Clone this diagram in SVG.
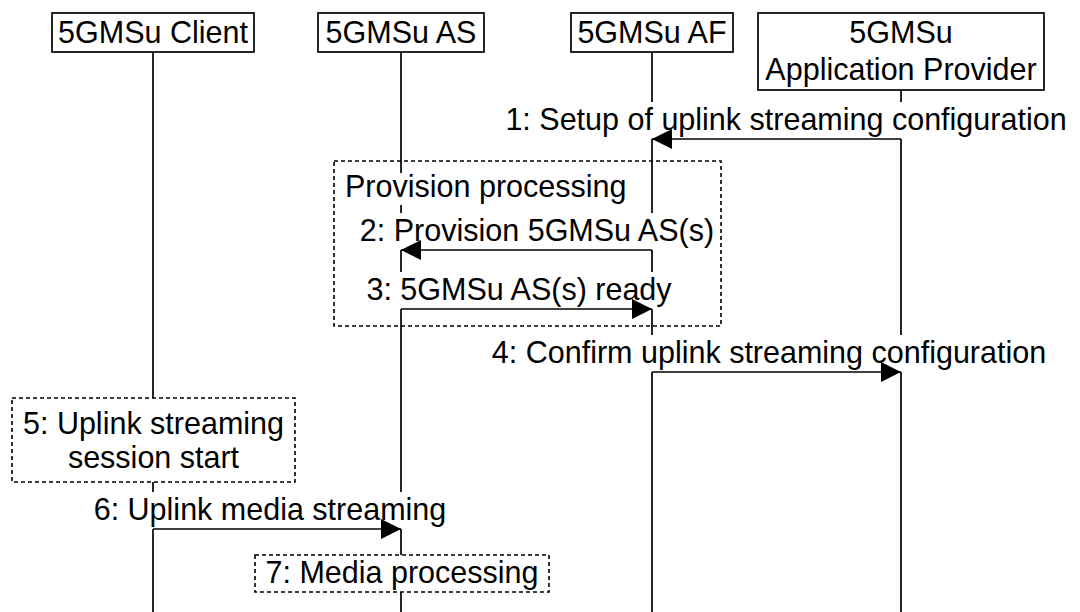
<svg xmlns="http://www.w3.org/2000/svg" width="1080" height="612" viewBox="0 0 1080 612">
  <style>
    text { font-family: "Liberation Sans", Arial, sans-serif; font-size: 30.5px; fill: #000; }
    .c { text-anchor: middle; }
    .box { fill: #fff; stroke: #000; stroke-width: 1.7; }
    .dash { fill: #fff; stroke: #000; stroke-width: 1.6; stroke-dasharray: 4 3; }
    .life { stroke: #000; stroke-width: 1.7; fill: none; }
    .msg { stroke: #000; stroke-width: 1.7; fill: none; marker-end: url(#ah); }
    .bg { fill: #fff; stroke: none; }
  </style>
  <defs>
    <marker id="ah" markerUnits="userSpaceOnUse" markerWidth="20" markerHeight="20" viewBox="0 0 18 18" refX="18" refY="9" orient="auto">
      <path d="M0,0 L18,9 L0,18 z" fill="#000"/>
    </marker>
  </defs>
  <rect width="1080" height="612" fill="#fff"/>

  <g id="lifelines">
    <line class="life" x1="153" y1="52" x2="153" y2="612"/>
    <line class="life" x1="401" y1="52" x2="401" y2="612"/>
    <line class="life" x1="652" y1="52" x2="652" y2="612"/>
    <line class="life" x1="901" y1="90" x2="901" y2="612"/>
  </g>

  <g id="client">
    <rect class="box" x="52" y="13" width="202" height="39"/>
    <text class="c" x="153" y="43">5GMSu Client</text>
  </g>
  <g id="as">
    <rect class="box" x="318" y="13" width="166" height="39"/>
    <text class="c" x="401" y="43">5GMSu AS</text>
  </g>
  <g id="af">
    <rect class="box" x="571" y="13" width="162" height="39"/>
    <text class="c" x="652" y="43">5GMSu AF</text>
  </g>
  <g id="ap">
    <rect class="box" x="758" y="13" width="286" height="77"/>
    <text class="c" x="901" y="43">5GMSu</text>
    <text class="c" x="901" y="80">Application Provider</text>
  </g>

  <g id="provision-processing">
    <rect class="dash" x="334" y="161" width="387" height="165" fill-opacity="0"/>
    <rect class="bg" x="343" y="173" width="285" height="32"/>
    <text x="345" y="197">Provision processing</text>
  </g>

  <g id="session-start">
    <rect class="dash" x="12" y="398" width="283" height="84"/>
    <text class="c" x="153.5" y="434">5: Uplink streaming</text>
    <text class="c" x="153.5" y="468">session start</text>
  </g>

  <g id="media-processing">
    <rect class="dash" x="255" y="555" width="294" height="37"/>
    <text class="c" x="402" y="583">7: Media processing</text>
  </g>

  <g id="connectors">
    <g id="m1">
      <rect class="bg" x="505" y="102" width="562" height="37"/>
      <text class="c" x="786" y="130">1: Setup of uplink streaming configuration</text>
      <line class="msg" x1="901" y1="139" x2="652" y2="139"/>
    </g>
    <g id="m2">
      <rect class="bg" x="359" y="213" width="356" height="37"/>
      <text class="c" x="537" y="241">2: Provision 5GMSu AS(s)</text>
      <line class="msg" x1="652" y1="250" x2="401" y2="250"/>
    </g>
    <g id="m3">
      <rect class="bg" x="365" y="272" width="307" height="37"/>
      <text class="c" x="519" y="300">3: 5GMSu AS(s) ready</text>
      <line class="msg" x1="401" y1="309" x2="652" y2="309"/>
    </g>
    <g id="m4">
      <rect class="bg" x="492" y="335" width="554" height="37"/>
      <text class="c" x="769" y="363">4: Confirm uplink streaming configuration</text>
      <line class="msg" x1="652" y1="372" x2="901" y2="372"/>
    </g>
    <g id="m6">
      <rect class="bg" x="94" y="492" width="352" height="37"/>
      <text class="c" x="270" y="520">6: Uplink media streaming</text>
      <line class="msg" x1="153" y1="529" x2="401" y2="529"/>
    </g>
  </g>
</svg>
